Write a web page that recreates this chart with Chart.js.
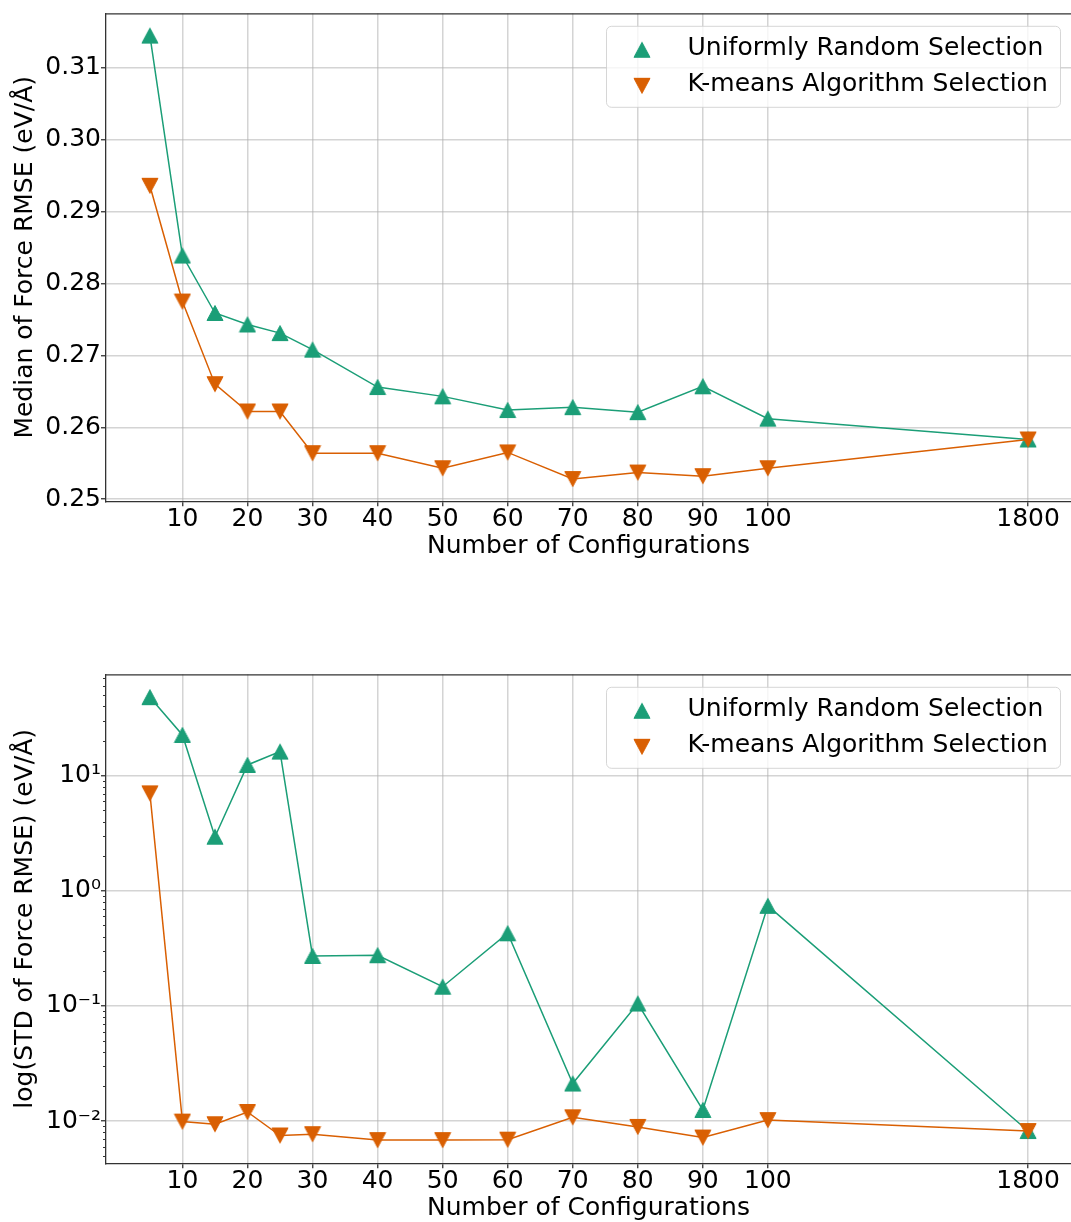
<!DOCTYPE html>
<html>
<head>
<meta charset="utf-8">
<script src="https://cdn.jsdelivr.net/npm/chart.js"></script>
<style>
  body { margin: 0; background: #fff; }
  canvas { display: block; }
</style>
</head>
<body>
<canvas id="medianChart" width="1071" height="611"></canvas>
<canvas id="stdChart" width="1071" height="611"></canvas>

<script>
// number of training configurations
const configs = [5, 10, 15, 20, 25, 30, 40, 50, 60, 70, 80, 90, 100, 1800];
const tickConfigs = [10, 20, 30, 40, 50, 60, 70, 80, 90, 100, 1800];

// median of force RMSE (eV/Å)
const medianRandom = [0.3145, 0.2839, 0.2759, 0.2743, 0.2731, 0.2708, 0.2656, 0.2643, 0.2624, 0.2628, 0.2621, 0.2657, 0.2612, 0.2583];
const medianKmeans = [0.2936, 0.2775, 0.2660, 0.2622, 0.2622, 0.2564, 0.2564, 0.2543, 0.2565, 0.2528, 0.2537, 0.2532, 0.2543, 0.2583];
const medianTicks = [0.25, 0.26, 0.27, 0.28, 0.29, 0.30, 0.31];

// std of force RMSE (eV/Å), log axis
const stdRandom = [48.1, 22.6, 2.95, 12.4, 16.2, 0.272, 0.276, 0.147, 0.428, 0.0212, 0.105, 0.0125, 0.741, 0.0082];
const stdKmeans = [7.03, 0.0099, 0.0094, 0.0120, 0.0075, 0.0077, 0.00684, 0.00684, 0.0069, 0.0108, 0.0089, 0.0072, 0.0102, 0.0082];
const stdTicks = [0.01, 0.1, 1, 10];

const GREEN = '#1b9e77';
const ORANGE = '#d95f02';
const AXIS = '#333';
const GRID = 'rgba(176,176,176,0.55)';

Chart.defaults.font.family = 'DejaVu Sans';
Chart.defaults.font.size = 25;
Chart.defaults.color = '#000';

// the full 1800 set is drawn in a gap after 100
function axisPos(n) { return n > 100 ? 140 : n; }

const SUP = { '-': '⁻', '0': '⁰', '1': '¹', '2': '²', '3': '³', '4': '⁴', '5': '⁵', '6': '⁶', '7': '⁷', '8': '⁸', '9': '⁹' };
function powLabel(v) {
  const e = String(Math.round(Math.log10(v)));
  return '10' + e.split('').map(c => SUP[c]).join('');
}

// matplotlib style triangle markers (centred on their box)
function triangle(color, up) {
  const c = document.createElement('canvas');
  c.width = 18; c.height = 18;
  const g = c.getContext('2d');
  g.beginPath();
  if (up) { g.moveTo(9, 1.5); g.lineTo(17, 16.5); g.lineTo(1, 16.5); }
  else { g.moveTo(9, 16.5); g.lineTo(17, 1.5); g.lineTo(1, 1.5); }
  g.closePath();
  g.fillStyle = color; g.fill();
  g.strokeStyle = color; g.lineWidth = 1; g.stroke();
  return c;
}

// top spine + minor ticks on log axis
const frame = {
  id: 'frame',
  afterDraw(chart) {
    const ctx = chart.ctx, a = chart.chartArea, y = chart.scales.y;
    ctx.save();
    ctx.strokeStyle = AXIS;
    ctx.lineWidth = 1.3;
    ctx.beginPath();
    ctx.moveTo(a.left, a.top + 0.5);
    ctx.lineTo(a.right, a.top + 0.5);
    ctx.stroke();
    if (y.type === 'logarithmic') {
      ctx.lineWidth = 1;
      ctx.beginPath();
      for (let k = Math.floor(Math.log10(y.min)); k <= Math.ceil(Math.log10(y.max)); k++) {
        for (let m = 2; m <= 9; m++) {
          const v = m * Math.pow(10, k);
          if (v < y.min || v > y.max) continue;
          const py = Math.round(y.getPixelForValue(v)) + 0.5;
          ctx.moveTo(a.left - 3, py);
          ctx.lineTo(a.left, py);
        }
      }
      ctx.stroke();
    }
    ctx.restore();
  }
};

const boxLegend = {
  id: 'boxLegend',
  afterDraw(chart) {
    const ctx = chart.ctx, a = chart.chartArea;
    const right = a.right - 10.5, left = right - 454, top = a.top + 13;
    ctx.save();
    ctx.beginPath();
    ctx.roundRect(left, top, right - left, 81, 5);
    ctx.fillStyle = 'rgba(255,255,255,0.8)';
    ctx.fill();
    ctx.strokeStyle = 'rgba(204,204,204,0.8)';
    ctx.lineWidth = 1;
    ctx.stroke();
    ctx.font = '25px "DejaVu Sans"';
    ctx.fillStyle = '#000';
    ctx.textBaseline = 'alphabetic';
    chart.data.datasets.forEach((ds, i) => {
      const img = ds.pointStyle;
      ctx.drawImage(img, left + 35.5 - img.width / 2, top + 23.5 + i * 36 - img.height / 2);
      ctx.fillText(ds.label, left + 81, top + 28.5 + i * 36);
    });
    ctx.restore();
  }
};

function makeChart(id, padTop, padBottom, yTitle, random, kmeans, yScale) {
  return new Chart(document.getElementById(id), {
    type: 'line',
    data: {
      datasets: [
        {
          label: 'Uniformly Random Selection',
          data: configs.map((n, i) => ({ x: axisPos(n), y: random[i] })),
          borderColor: GREEN, borderWidth: 1.5,
          pointStyle: triangle(GREEN, true), pointRadius: 9,
          order: 1
        },
        {
          label: 'K-means Algorithm Selection',
          data: configs.map((n, i) => ({ x: axisPos(n), y: kmeans[i] })),
          borderColor: ORANGE, borderWidth: 1.5,
          pointStyle: triangle(ORANGE, false), pointRadius: 9,
          order: 0
        }
      ]
    },
    options: {
      responsive: false,
      animation: false,
      events: [],
      layout: { autoPadding: false, padding: { top: padTop, bottom: padBottom, left: 0, right: 0 } },
      plugins: { legend: { display: false }, tooltip: { enabled: false } },
      scales: {
        x: {
          type: 'linear',
          min: -1.75,
          max: 146.6,
          afterBuildTicks: s => { s.ticks = tickConfigs.map(n => ({ value: axisPos(n) })); },
          afterFit: s => { s.height = 57.6; s.paddingLeft = 0; s.paddingRight = 0; },
          ticks: {
            callback: v => String(tickConfigs.find(n => axisPos(n) === v)),
            font: { size: 25, lineHeight: 1 },
            padding: 0.5,
            maxRotation: 0,
            autoSkip: false
          },
          grid: { color: GRID, lineWidth: 1.5, tickLength: 5, tickColor: AXIS, tickWidth: 1.3 },
          border: { color: AXIS, width: 1.3 },
          title: { display: true, text: 'Number of Configurations', font: { size: 25, lineHeight: 1 }, padding: 0 }
        },
        y: Object.assign({
          afterFit: s => { s.width = 106; s.paddingTop = 0; s.paddingBottom = 0; },
          grid: { color: GRID, lineWidth: 1.5, tickLength: 5, tickColor: AXIS, tickWidth: 1.3 },
          border: { color: AXIS, width: 1.3 },
          title: { display: true, text: yTitle, font: { size: 25, lineHeight: 1 }, padding: { top: 13, bottom: 0 } }
        }, yScale)
      }
    },
    plugins: [frame, boxLegend]
  });
}

makeChart('medianChart', 13.3, 52.1, 'Median of Force RMSE (eV/Å)', medianRandom, medianKmeans, {
  type: 'linear',
  min: 0.2497,
  max: 0.3176,
  afterBuildTicks: s => { s.ticks = medianTicks.map(v => ({ value: v })); },
  ticks: { callback: v => v.toFixed(2), padding: 0, font: { size: 25 } }
});

makeChart('stdChart', 63.3, 1.1, 'log(STD of Force RMSE) (eV/Å)', stdRandom, stdKmeans, {
  type: 'logarithmic',
  min: 0.0043,
  max: 76,
  afterBuildTicks: s => { s.ticks = stdTicks.map(v => ({ value: v, major: true })); },
  ticks: { callback: v => powLabel(v), padding: 0, font: { size: 25 } }
});
</script>
</body>
</html>
